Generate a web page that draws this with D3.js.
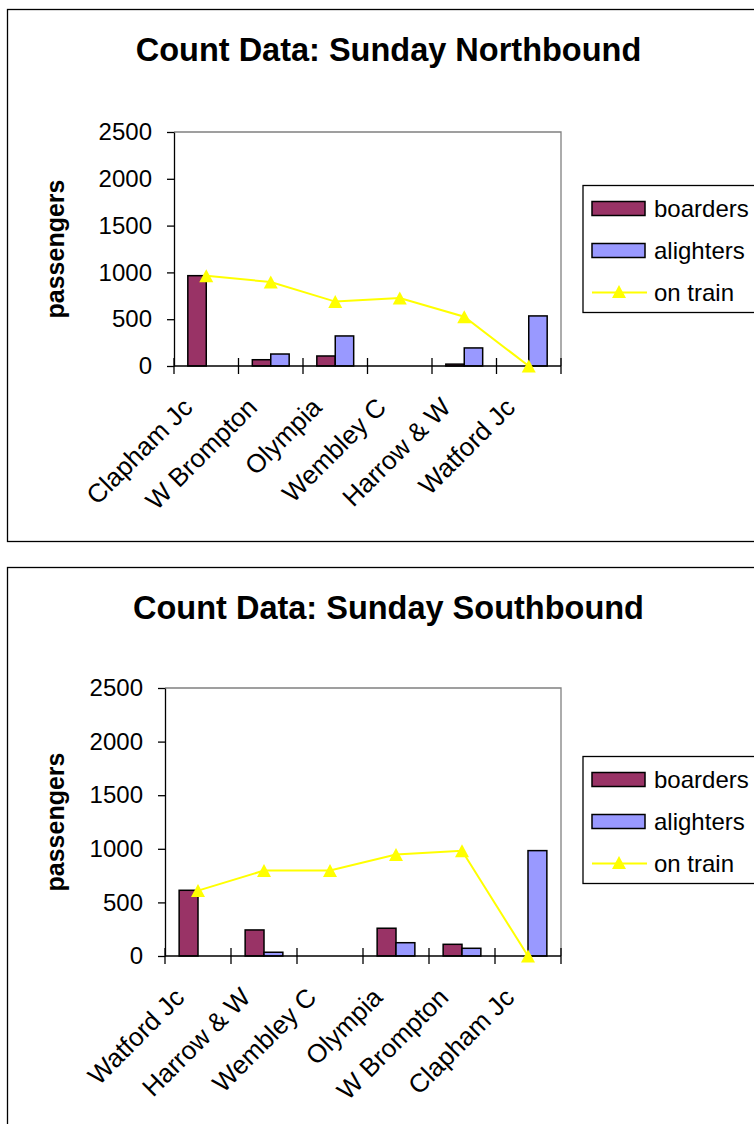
<!DOCTYPE html>
<html>
<head>
<meta charset="utf-8">
<script src="https://cdn.jsdelivr.net/npm/d3@7"></script>
<style>
  html, body { margin: 0; padding: 0; background: #fff; }
  svg { display: block; font-family: "Liberation Sans", Arial, sans-serif; }
</style>
</head>
<body>
<svg id="chart" width="754" height="1124"></svg>
<script>
// ---- Data ----
const northStations = ["Clapham Jc", "W Brompton", "Olympia", "Wembley C", "Harrow & W", "Watford Jc"];
const northBoarders = [965, 67, 107, 0, 20, 0];
const northAlighters = [0, 128, 321, 0, 193, 535];
const northOnTrain = [965, 897, 688, 727, 527, 0];

const southStations = ["Watford Jc", "Harrow & W", "Wembley C", "Olympia", "W Brompton", "Clapham Jc"];
const southBoarders = [613, 243, 0, 259, 109, 0];
const southAlighters = [0, 35, 0, 124, 72, 983];
const southOnTrain = [610, 797, 797, 946, 981, 0];

const yTicks = [0, 500, 1000, 1500, 2000, 2500];
const seriesNames = ["boarders", "alighters", "on train"];
const titles = ["Count Data: Sunday Northbound", "Count Data: Sunday Southbound"];
const yAxisTitle = "passengers";

// ---- Styles ----
const colBoarders = "#993366";
const colAlighters = "#9999FF";
const colLine = "#FFFF00";

const svg = d3.select("#chart");

function triangle(cx, cy) {
  const w = 14, h = 13;
  return `M${cx},${cy - h / 2}L${cx + w / 2},${cy + h / 2}L${cx - w / 2},${cy + h / 2}Z`;
}

function drawChart(cfg) {
  const g = svg.append("g");
  // chart area border
  g.append("rect")
    .attr("x", cfg.boxX).attr("y", cfg.boxY)
    .attr("width", cfg.boxW).attr("height", cfg.boxH)
    .attr("fill", "#fff").attr("stroke", "#000").attr("stroke-width", 1.3);

  // title
  g.append("text")
    .attr("x", 388.5).attr("y", cfg.titleY)
    .attr("text-anchor", "middle")
    .attr("font-size", 32.5).attr("font-weight", "bold")
    .text(cfg.title);

  const x = d3.scaleBand().domain(cfg.stations).range([cfg.left, cfg.right]).paddingInner(0).paddingOuter(0);
  const y = d3.scaleLinear().domain([0, 2500]).range([cfg.bottom, cfg.top]);

  // plot area border (top & right gray)
  g.append("path")
    .attr("d", `M${cfg.left},${cfg.top}H${cfg.right}V${cfg.bottom}`)
    .attr("fill", "none").attr("stroke", "#808080").attr("stroke-width", 1.3);

  // y axis
  const ya = g.append("g")
    .attr("transform", `translate(${cfg.left},0)`)
    .call(d3.axisLeft(y).tickValues(yTicks).tickSize(7).tickSizeOuter(0).tickPadding(15).tickFormat(d3.format("d")));
  ya.select(".domain").attr("stroke", "#000").attr("stroke-width", 1.3);
  ya.selectAll(".tick line").attr("stroke", "#000").attr("stroke-width", 1.3);
  ya.selectAll(".tick text").attr("font-size", 24).attr("fill", "#000")
    .attr("font-family", "'Liberation Sans', Arial, sans-serif");

  // y axis title
  g.append("text")
    .attr("transform", `translate(64,${(cfg.top + cfg.bottom) / 2}) rotate(-90)`)
    .attr("text-anchor", "middle")
    .attr("font-size", 25).attr("font-weight", "bold")
    .text(yAxisTitle);

  const bw = x.bandwidth() / 3.5;

  // bars
  const rows = cfg.stations.map((s, i) => ({ s, b: cfg.boarders[i], a: cfg.alighters[i], t: cfg.onTrain[i] }));
  g.selectAll(".bb").data(rows.filter(d => d.b > 0)).join("rect")
    .attr("x", d => x(d.s) + bw * 0.75)
    .attr("y", d => y(d.b))
    .attr("width", bw)
    .attr("height", d => y(0) - y(d.b))
    .attr("fill", colBoarders).attr("stroke", "#000").attr("stroke-width", 1.5);
  g.selectAll(".ba").data(rows.filter(d => d.a > 0)).join("rect")
    .attr("x", d => x(d.s) + bw * 1.75)
    .attr("y", d => y(d.a))
    .attr("width", bw)
    .attr("height", d => y(0) - y(d.a))
    .attr("fill", colAlighters).attr("stroke", "#000").attr("stroke-width", 1.5);

  // x axis line
  g.append("line")
    .attr("x1", cfg.left).attr("x2", cfg.right)
    .attr("y1", y(0)).attr("y2", y(0))
    .attr("stroke", "#000").attr("stroke-width", 1.3);
  // x ticks at category boundaries (cross)
  const bounds = cfg.stations.map(s => x(s)).concat([cfg.right]);
  g.selectAll(".xt").data(bounds).join("line")
    .attr("x1", d => d).attr("x2", d => d)
    .attr("y1", y(0) - 8).attr("y2", y(0) + 8)
    .attr("stroke", "#000").attr("stroke-width", 1.3);

  // x labels
  g.selectAll(".xl").data(cfg.stations).join("text")
    .attr("transform", d => `translate(${x(d) + x.bandwidth() / 2 - 12},${y(0) + 43}) rotate(-45)`)
    .attr("text-anchor", "end")
    .attr("font-size", 26)
    .text(d => d);

  // on train line
  const line = d3.line().x(d => x(d.s) + x.bandwidth() / 2).y(d => y(d.t));
  g.append("path").datum(rows).attr("d", line)
    .attr("fill", "none").attr("stroke", colLine).attr("stroke-width", 2);
  g.selectAll(".mk").data(rows).join("path")
    .attr("d", d => triangle(x(d.s) + x.bandwidth() / 2, y(d.t)))
    .attr("fill", colLine);

  // legend
  const lg = g.append("g");
  lg.append("rect")
    .attr("x", 583).attr("y", cfg.legTop)
    .attr("width", 220).attr("height", 127)
    .attr("fill", "#fff").attr("stroke", "#000").attr("stroke-width", 1.3);
  const rowY = [cfg.legTop + 23, cfg.legTop + 65, cfg.legTop + 107];
  const cols = [colBoarders, colAlighters];
  [0, 1].forEach(i => {
    lg.append("rect")
      .attr("x", 592).attr("y", rowY[i] - 7)
      .attr("width", 53).attr("height", 14)
      .attr("fill", cols[i]).attr("stroke", "#000").attr("stroke-width", 1.5);
  });
  lg.append("line")
    .attr("x1", 592).attr("x2", 647).attr("y1", rowY[2]).attr("y2", rowY[2])
    .attr("stroke", colLine).attr("stroke-width", 2);
  lg.append("path").attr("d", triangle(619, rowY[2] - 1)).attr("fill", colLine);
  seriesNames.forEach((n, i) => {
    lg.append("text")
      .attr("x", 654).attr("y", rowY[i])
      .attr("dy", "0.35em")
      .attr("font-size", 24)
      .text(n);
  });
}

drawChart({
  title: titles[0], titleY: 61,
  boxX: 7.5, boxY: 9.5, boxW: 800, boxH: 532,
  left: 174, right: 561, top: 132, bottom: 366,
  stations: northStations, boarders: northBoarders, alighters: northAlighters, onTrain: northOnTrain,
  legTop: 185.5
});
drawChart({
  title: titles[1], titleY: 619,
  boxX: 7.5, boxY: 567.5, boxW: 800, boxH: 600,
  left: 165, right: 561, top: 688, bottom: 956,
  stations: southStations, boarders: southBoarders, alighters: southAlighters, onTrain: southOnTrain,
  legTop: 756.5
});
</script>
</body>
</html>
